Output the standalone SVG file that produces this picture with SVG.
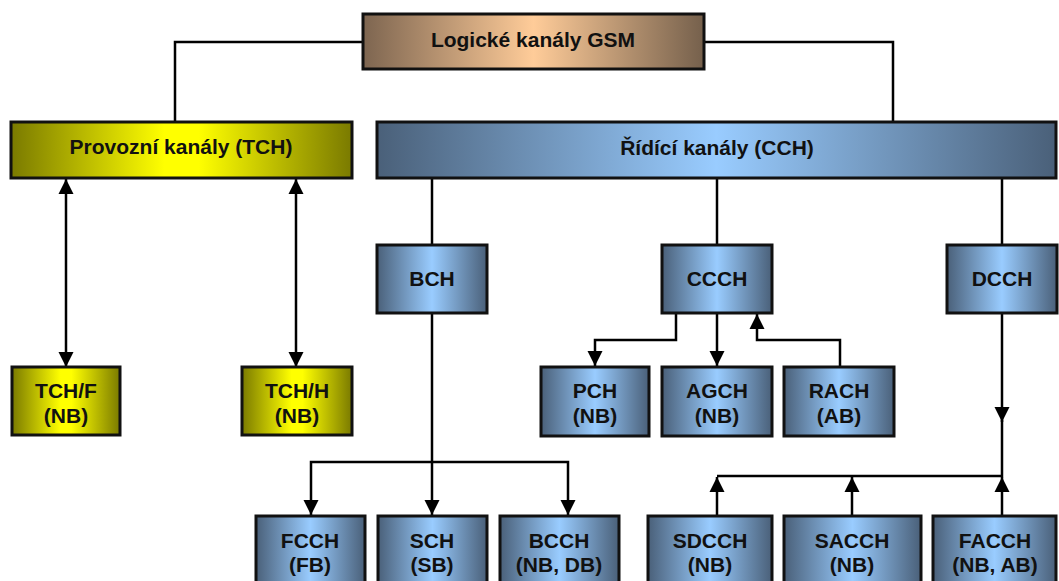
<svg xmlns="http://www.w3.org/2000/svg" width="1059" height="581" viewBox="0 0 1059 581">
<style>
.box{stroke:#111;stroke-width:3}
.t{font-family:"Liberation Sans",Arial,sans-serif;font-weight:bold;font-size:21px;fill:#111;text-anchor:middle}
.c{fill:none;stroke:#000;stroke-width:2.5}
</style>
<defs>
<linearGradient id="gBrown" x1="0" y1="0" x2="1" y2="0">
<stop offset="0" stop-color="#7d6550"/><stop offset="0.5" stop-color="#ffcc99"/><stop offset="1" stop-color="#75604c"/>
</linearGradient>
<linearGradient id="gYellow" x1="0" y1="0" x2="1" y2="0">
<stop offset="0" stop-color="#7a7a00"/><stop offset="0.45" stop-color="#ffff00"/><stop offset="0.55" stop-color="#ffff00"/><stop offset="1" stop-color="#7a7a00"/>
</linearGradient>
<linearGradient id="gBlue" x1="0" y1="0" x2="1" y2="0">
<stop offset="0" stop-color="#4a6079"/><stop offset="0.5" stop-color="#99ccff"/><stop offset="1" stop-color="#4a6079"/>
</linearGradient>
<marker id="arr" markerUnits="userSpaceOnUse" markerWidth="16" markerHeight="16" refX="15" refY="8" orient="auto-start-reverse" viewBox="0 0 16 16">
<path d="M0,0.5 L15,8 L0,15.5 z" fill="#000"/>
</marker>
</defs>

<g id="connectors">
<path class="c" d="M363,42 H175 V122"/>
<path class="c" d="M704,42 H893 V122"/>
<path class="c" d="M66,179 V367" marker-start="url(#arr)" marker-end="url(#arr)"/>
<path class="c" d="M296,179 V367" marker-start="url(#arr)" marker-end="url(#arr)"/>
<path class="c" d="M432,178 V245"/>
<path class="c" d="M717,178 V245"/>
<path class="c" d="M1002,178 V245"/>
<path class="c" d="M676,313 V340 H595 V366" marker-end="url(#arr)"/>
<path class="c" d="M717,313 V366" marker-end="url(#arr)"/>
<path class="c" d="M840,367 V340 H757 V314" marker-end="url(#arr)"/>
<path class="c" d="M432,313 V515" marker-end="url(#arr)"/>
<path class="c" d="M311,515 V462 H568 V515" marker-start="url(#arr)" marker-end="url(#arr)"/>
<path class="c" d="M1002,313 V422" marker-end="url(#arr)"/>
<path class="c" d="M1002,420 V476 H717"/>
<path class="c" d="M717,516 V477" marker-end="url(#arr)"/>
<path class="c" d="M852,516 V477" marker-end="url(#arr)"/>
<path class="c" d="M1002,516 V477" marker-end="url(#arr)"/>
</g>

<g id="gsm"><rect class="box" x="363" y="14" width="341" height="55" fill="url(#gBrown)"/><text class="t" x="533" y="47">Logické kanály GSM</text></g>
<g id="tch"><rect class="box" x="11" y="122" width="341" height="56" fill="url(#gYellow)"/><text class="t" x="181" y="154">Provozní kanály (TCH)</text></g>
<g id="cch"><rect class="box" x="377" y="122" width="679" height="56" fill="url(#gBlue)"/><text class="t" x="717" y="155">Řídící kanály (CCH)</text></g>

<g id="tchf"><rect class="box" x="12" y="367" width="108" height="68" fill="url(#gYellow)"/><text class="t" x="66" y="398">TCH/F</text><text class="t" x="66" y="423">(NB)</text></g>
<g id="tchh"><rect class="box" x="242" y="367" width="110" height="68" fill="url(#gYellow)"/><text class="t" x="297" y="398">TCH/H</text><text class="t" x="297" y="423">(NB)</text></g>

<g id="bch"><rect class="box" x="377" y="245" width="110" height="68" fill="url(#gBlue)"/><text class="t" x="432" y="286">BCH</text></g>
<g id="ccch"><rect class="box" x="662" y="245" width="110" height="68" fill="url(#gBlue)"/><text class="t" x="717" y="286">CCCH</text></g>
<g id="dcch"><rect class="box" x="947" y="245" width="110" height="68" fill="url(#gBlue)"/><text class="t" x="1002" y="286">DCCH</text></g>

<g id="pch"><rect class="box" x="541" y="367" width="108" height="69" fill="url(#gBlue)"/><text class="t" x="595" y="398">PCH</text><text class="t" x="595" y="423">(NB)</text></g>
<g id="agch"><rect class="box" x="662" y="367" width="110" height="69" fill="url(#gBlue)"/><text class="t" x="717" y="398">AGCH</text><text class="t" x="717" y="423">(NB)</text></g>
<g id="rach"><rect class="box" x="784" y="367" width="110" height="69" fill="url(#gBlue)"/><text class="t" x="839" y="398">RACH</text><text class="t" x="839" y="423">(AB)</text></g>

<g id="fcch"><rect class="box" x="256" y="516" width="109" height="70" fill="url(#gBlue)"/><text class="t" x="310" y="548">FCCH</text><text class="t" x="310" y="572">(FB)</text></g>
<g id="sch"><rect class="box" x="378" y="516" width="109" height="70" fill="url(#gBlue)"/><text class="t" x="432" y="548">SCH</text><text class="t" x="432" y="572">(SB)</text></g>
<g id="bcch"><rect class="box" x="500" y="516" width="119" height="70" fill="url(#gBlue)"/><text class="t" x="559" y="548">BCCH</text><text class="t" x="559" y="572">(NB, DB)</text></g>
<g id="sdcch"><rect class="box" x="648" y="516" width="124" height="70" fill="url(#gBlue)"/><text class="t" x="710" y="548">SDCCH</text><text class="t" x="710" y="572">(NB)</text></g>
<g id="sacch"><rect class="box" x="784" y="516" width="137" height="70" fill="url(#gBlue)"/><text class="t" x="852" y="548">SACCH</text><text class="t" x="852" y="572">(NB)</text></g>
<g id="facch"><rect class="box" x="933" y="516" width="123" height="70" fill="url(#gBlue)"/><text class="t" x="995" y="548">FACCH</text><text class="t" x="995" y="572">(NB, AB)</text></g>
</svg>
